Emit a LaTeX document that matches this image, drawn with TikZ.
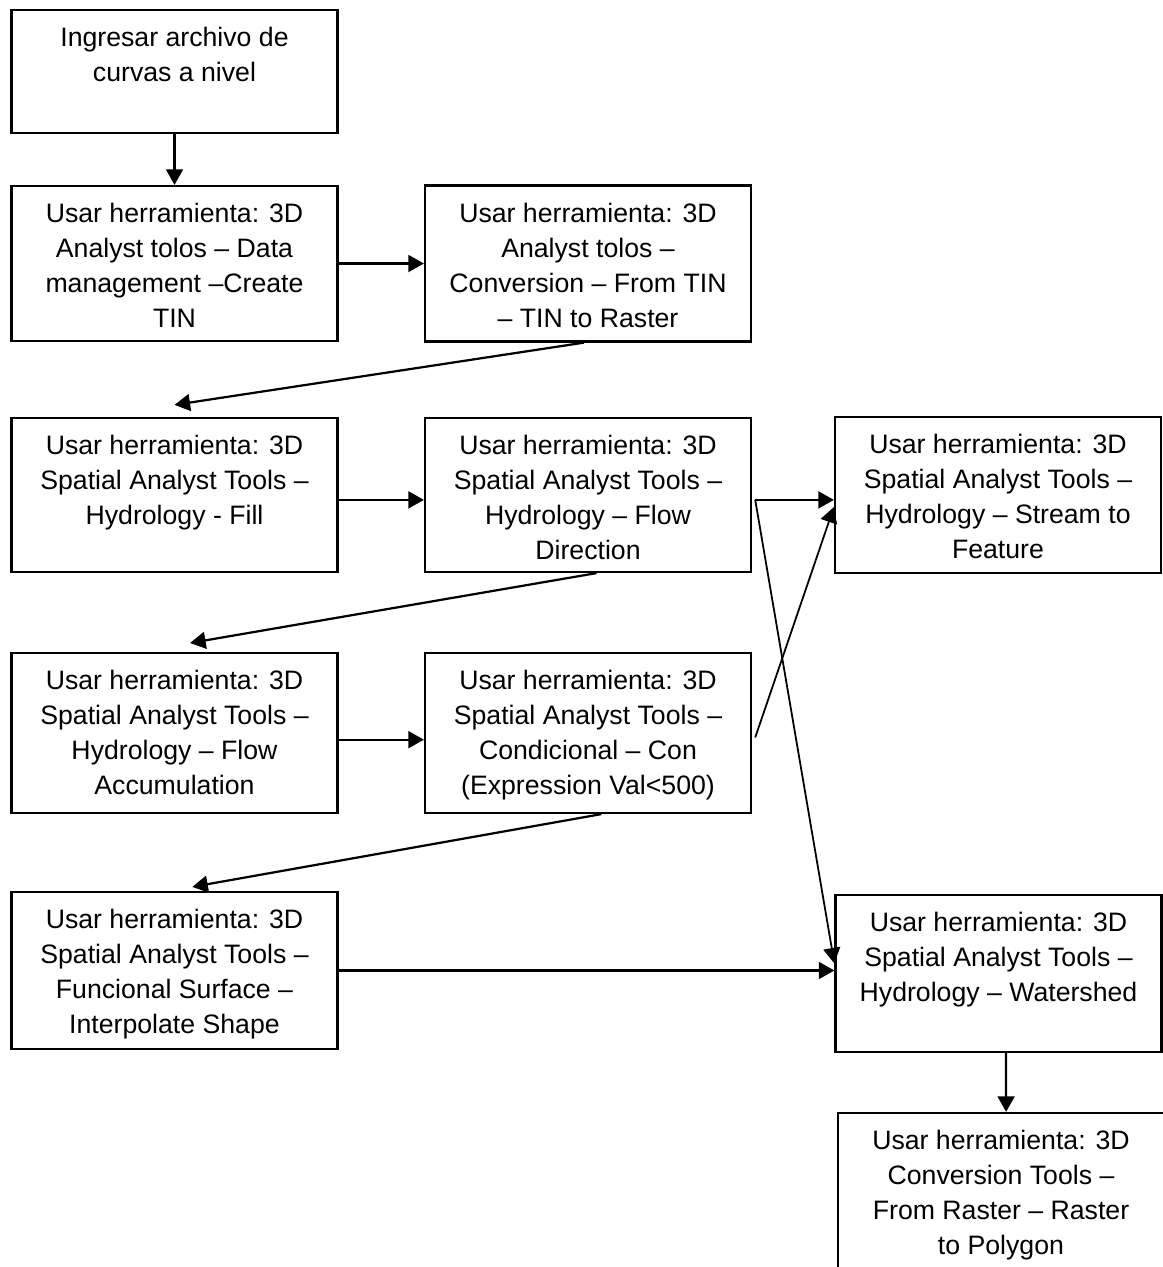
\documentclass[tikz,border=0pt]{standalone}
\usepackage{fontspec}
\setmainfont{Liberation Sans}
\usetikzlibrary{arrows.meta}

\newcommand{\boxtext}[2]{\parbox[c][#1][t]{146.7pt}{\centering\vspace*{7.8pt}#2}}

\begin{document}
\begin{tikzpicture}[x=0.45pt, y=-0.45pt]
    \tikzset{
        cstep/.style={draw=black, line width=1pt, inner sep=0pt, font=\fontsize{12}{15.75}\selectfont},
        carrow/.style={-{Triangle[length=7pt, width=7.6pt]}, line width=1pt},
        cthin/.style={carrow, line width=0.8pt}
    }
    \useasboundingbox (0, 0) rectangle (1163, 1267);

    % Bloques:
    \node[cstep] (b1) at (174.5, 71.5) {\boxtext{55.35pt}{Ingresar archivo de\\curvas a nivel}};
    \node[cstep] (b2) at (174.5, 263.5) {\boxtext{69.75pt}{Usar herramienta: 3D\\Analyst tolos – Data\\management –Create\\TIN}};
    \node[cstep] (b3) at (588, 263.5) {\boxtext{70.2pt}{Usar herramienta: 3D\\Analyst tolos –\\Conversion – From TIN\\– TIN to Raster}};

    \node[cstep] (b4) at (174.5, 495) {\boxtext{69.3pt}{Usar herramienta: 3D\\Spatial Analyst Tools –\\Hydrology - Fill}};
    \node[cstep] (b5) at (588, 495) {\boxtext{69.3pt}{Usar herramienta: 3D\\Spatial Analyst Tools –\\Hydrology – Flow\\Direction}};
    \node[cstep] (b6) at (998, 495) {\boxtext{70.2pt}{Usar herramienta: 3D\\Spatial Analyst Tools –\\Hydrology – Stream to\\Feature}};

    \node[cstep] (b7) at (174.5, 733) {\boxtext{72pt}{Usar herramienta: 3D\\Spatial Analyst Tools –\\Hydrology – Flow\\Accumulation}};
    \node[cstep] (b8) at (588, 733) {\boxtext{72pt}{Usar herramienta: 3D\\Spatial Analyst Tools –\\Condicional – Con\\(Expression Val<500)}};

    \node[cstep] (b9) at (174.5, 970.5) {\boxtext{70.65pt}{Usar herramienta: 3D\\Spatial Analyst Tools –\\Funcional Surface –\\Interpolate Shape}};
    \node[cstep] (b10) at (998.5, 973.5) {\boxtext{70.65pt}{Usar herramienta: 3D\\Spatial Analyst Tools –\\Hydrology – Watershed}};
    \node[cstep] (b11) at (1001, 1191.5) {\boxtext{70.65pt}{Usar herramienta: 3D\\Conversion Tools –\\From Raster – Raster\\to Polygon}};

    % Flechas:
    \draw[carrow] (b1.south) -- (b2.north);
    \draw[carrow] (b2.east) -- (b3.west);
    \draw[carrow] ([xshift=-1.8pt]b3.south) -- ([yshift=5.4pt]b4.north);
    \draw[carrow] ([yshift=-2.2pt]b4.east) -- ([yshift=-2.2pt]b5.west);

    \coordinate (fork) at ([xshift=1.4pt, yshift=-2.2pt]b5.east);
    \draw[carrow] (fork) -- (fork -| b6.west);
    \draw[cthin] (fork) -- ([yshift=4.5pt]b10.west);

    \draw[carrow] ([xshift=3.8pt]b5.south) -- ([xshift=7pt, yshift=4pt]b7.north);
    \draw[carrow] ([yshift=-3pt]b7.east) -- ([yshift=-3pt]b8.west);
    \draw[cthin] ([xshift=1.4pt, yshift=-2pt]b8.east) -- ([yshift=-5.4pt]b6.west);
    \draw[carrow] ([xshift=6pt]b8.south) -- ([xshift=8pt, yshift=1.8pt]b9.north);

    \draw[carrow] (b9.east) -- (b9.east -| b10.west);
    \draw[carrow] ([xshift=3.4pt]b10.south) -- ([xshift=2.3pt]b11.north);
\end{tikzpicture}
\end{document}
